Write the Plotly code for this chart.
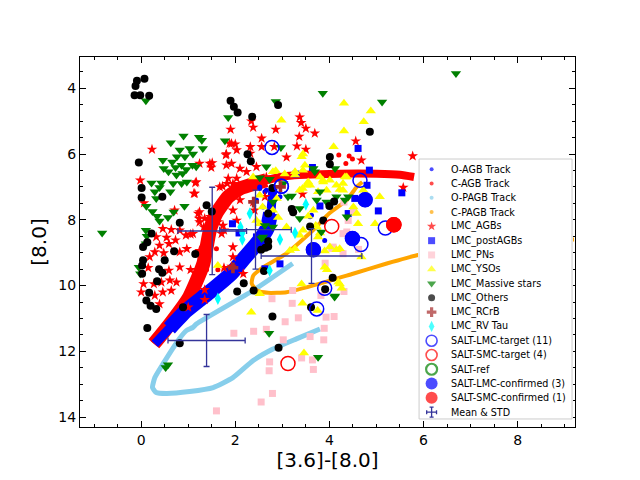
import plotly.graph_objects as go

# ---- evolutionary tracks ----
cagb_x = [0.27, 0.5, 1.02, 1.32, 1.46, 1.6, 1.85, 2.1, 2.66, 3.09, 4.22, 5.0, 5.5, 5.8]
cagb_y = [11.77, 11.37, 10.35, 9.34, 8.32, 7.8, 7.3, 7.05, 6.8, 6.67, 6.6, 6.6, 6.63, 6.7]
cagb_dots_x = [4.2, 4.42, 4.49, 4.35, 1.6, 1.39, 1.63]
cagb_dots_y = [6.03, 6.06, 6.15, 6.29, 8.88, 9.52, 9.52]

oagb_x = [0.29, 0.6, 0.96, 1.45, 1.91, 2.2, 2.5, 2.68, 2.75, 2.78, 2.8]
oagb_y = [11.77, 11.3, 10.76, 10.2, 9.64, 9.15, 8.65, 8.25, 7.8, 7.4, 7.05]
oagb_dots_x = [2.52, 2.63, 2.95, 2.8, 2.66, 2.52, 2.77, 2.45, 2.59, 3.59, 3.9, 3.62]
oagb_dots_y = [7.0, 7.15, 7.3, 7.61, 7.1, 7.05, 7.4, 7.4, 7.61, 7.91, 8.63, 7.86]

opagb_x = [3.22, 2.38, 1.18, 1.1, 0.96, 0.82, 0.46, 0.29, 0.24, 0.32, 0.54, 1.03, 1.53, 1.95, 2.38, 2.8, 3.3, 3.8]
opagb_y = [9.33, 10.15, 11.16, 11.27, 11.37, 11.6, 12.39, 12.8, 13.1, 13.25, 13.28, 13.22, 13.1, 12.8, 12.28, 11.93, 11.62, 11.32]

cpagb_x = [4.7, 4.58, 4.37, 4.0, 3.65, 3.09, 2.59, 2.38, 2.35, 2.46, 2.7, 3.09, 3.8, 4.5, 5.22, 5.86, 6.6, 7.5, 8.4, 9.2]
cpagb_y = [6.85, 7.0, 7.4, 7.8, 8.32, 9.02, 9.45, 9.7, 9.94, 10.15, 10.22, 10.2, 9.94, 9.64, 9.33, 9.08, 8.9, 8.75, 8.65, 8.6]

# ---- LMC populations ----
agb_x = [0.23, -0.02, 1.15, 1.12, 0.06, 0.71, 1.24, 1.35, 0.46, 0.64, 0.82, 0.95, 1.05, 0.32, 0.54, 0.73,
         0.39, 0.59, 0.29, 0.48, 0.18, 0.82, 0.97, 0.15, 0.59, 0.82, 1.05, 0.05, 0.27, 0.43, 0.61, 0.75,
         0.0, 0.29, 0.46, 0.64, 0.39, 1.0, 1.35, 1.35, 1.76, 1.24, 1.76, 1.95, 1.24, 1.46, 1.81, 2.03,
         1.88, 1.92, 1.73, 1.85, 1.95, 1.23, 1.47, 1.63, 1.33, 1.9, 1.92, 2.0, 2.34, 2.38, 2.32, 2.32,
         2.56, 2.86, 3.37, 3.4, 3.5, 3.69, 3.36, 3.31, 3.5, 3.09, 2.56, 1.8, 1.81, 1.51, 1.49, 2.1,
         2.24, 2.45, 2.66, 2.03, 1.83, 1.67, 1.17, 1.14, 1.21, 1.24, 2.38, 2.41, 2.03, 1.74, 2.63, 2.83,
         1.1, 1.71, 4.56, 4.68, 5.77, 5.57, 7.9, 8.73, 8.76, 7.88, 7.98, 8.05, 7.45, 6.05, 6.95, 3.43,
         2.1, 1.95, 1.95, 2.17, 1.92, 1.71]
agb_y = [5.86, 6.8, 6.88, 7.2, 7.49, 7.71, 7.76, 7.96, 8.27, 8.3, 8.32, 8.47, 8.44, 8.52, 8.54, 8.62,
         8.78, 8.73, 8.98, 9.01, 9.13, 8.98, 8.88, 9.46, 9.54, 9.44, 9.52, 9.95, 9.95, 9.9, 9.84, 9.9,
         10.2, 10.3, 10.2, 10.15, 10.56, 10.66, 10.13, 10.43, 9.46, 8.94, 8.32, 8.83, 6.29, 6.29, 6.0, 5.88,
         5.68, 6.29, 6.98, 6.74, 6.9, 7.96, 7.91, 8.07, 8.22, 5.25, 5.68, 5.7, 5.0, 5.19, 5.78, 5.98,
         5.52, 5.25, 4.88, 5.05, 5.22, 5.37, 5.47, 5.76, 5.86, 6.1, 5.78, 6.03, 6.34, 6.27, 6.41, 6.44,
         6.54, 6.39, 6.7, 6.74, 6.9, 7.0, 6.85, 7.2, 7.81, 8.07, 7.46, 7.71, 8.02, 8.17, 7.3, 5.78,
         8.42, 8.42, 5.61, 6.19, 6.06, 7.02, 6.95, 7.33, 7.73, 6.98, 7.86, 7.86, 7.71, 7.81, 8.42, 7.22,
         7.4, 7.71, 9.13, 9.64, 9.42, 7.5]

postagb_x = [1.94, 2.08, 2.45, 3.29, 3.8, 4.61, 4.85, 4.8, 3.64, 5.54, 5.04, 4.54, 4.4, 2.95, 2.63]
postagb_y = [8.12, 8.4, 8.52, 6.61, 7.58, 5.83, 6.49, 6.95, 6.41, 7.18, 7.73, 7.35, 7.81, 9.34, 9.49]

pn_x = [3.91, 3.22, 2.78, 3.21, 3.82, 4.31, 3.06, 3.34, 3.93, 4.1, 2.39, 2.66, 3.02, 3.59, 3.89, 3.88,
        2.73, 2.72, 3.41, 3.64, 3.66, 2.79, 2.55, 1.6, 1.97, 4.29, 4.08, 4.31, 4.51, 4.29, 4.4, 4.37,
        4.62, 4.05]
pn_y = [9.32, 10.15, 10.4, 10.54, 10.3, 10.18, 11.1, 10.98, 10.96, 10.94, 11.39, 11.33, 11.65, 11.55, 11.3, 11.65,
        12.32, 12.59, 12.2, 12.26, 12.55, 13.28, 13.54, 13.81, 11.45, 8.42, 8.83, 7.46, 7.76, 9.03, 8.02, 8.37,
        8.9, 8.87]

yso_x = [4.31, 4.88, 4.73, 4.31, 4.09, 2.98, 3.44, 3.41, 4.33, 3.8, 3.86, 3.59, 3.43, 3.27, 2.86, 2.38,
         3.94, 4.29, 4.72, 5.07, 4.97, 4.61, 4.58, 4.15, 4.01, 3.44, 3.76, 4.22, 4.37, 4.29, 3.51, 3.66,
         3.55, 3.71, 3.8, 3.44, 3.9, 4.15, 4.68, 4.51, 3.9, 3.48, 2.8, 3.05, 3.27, 3.87, 3.55, 3.37,
         2.52, 2.88, 2.8, 2.91, 2.45, 2.52, 3.09, 3.73, 3.37, 3.76, 3.16, 3.27, 4.01, 4.22, 3.95, 4.22,
         3.41, 2.34, 2.52, 1.63, 3.43, 3.75, 4.19, 4.26, 3.46, 2.58]
yso_y = [4.46, 4.69, 5.02, 5.3, 5.78, 4.97, 6.0, 6.08, 6.7, 6.7, 6.8, 6.95, 7.05, 6.64, 6.51, 6.7,
         7.1, 7.1, 7.1, 7.3, 8.12, 8.12, 7.81, 6.95, 6.8, 6.49, 7.15, 7.08, 6.7, 6.9, 6.95, 7.71,
         7.89, 8.17, 8.4, 8.32, 8.95, 8.91, 9.13, 7.61, 9.44, 6.34, 6.54, 6.61, 6.54, 6.85, 6.85, 7.1,
         7.25, 7.35, 7.71, 7.93, 8.02, 8.12, 8.22, 8.22, 8.47, 8.52, 8.93, 8.88, 8.83, 8.88, 9.52, 9.95,
         9.95, 10.81, 10.25, 9.39, 10.54, 10.76, 9.9, 10.08, 12.05, 7.61]

massive_x = [0.9, 1.23, 1.29, 0.63, 0.82, 1.03, 1.1, 1.31, 0.46, 0.66, 0.76, 0.93, 0.48, 0.58, 0.73, 0.86,
             0.96, 1.09, 1.17, 0.75, 0.88, 0.22, 0.43, 0.68, 0.86, 0.97, 0.29, 0.39, 0.62, 0.32, 0.11, 0.24,
             0.34, 0.69, 0.92, 0.57, 0.39, 0.1, 0.12, 0.1, -0.05, -0.02, -0.83, 1.78, 0.1, 1.85, 2.86, 3.86,
             5.12, 6.69, 2.97, 2.66, 2.73, 2.52, 3.02, 3.12, 3.37, 3.66, 3.8, 3.73, 2.8, 2.8, 2.63, 2.56,
             3.83, 3.69, 4.12, 3.2, 4.15, 4.4, 3.37, 3.94, 4.33, 4.37, 2.59, 4.12, 0.52, 0.57, 2.72, 3.76,
             4.11]
massive_y = [5.45, 5.49, 5.58, 5.66, 5.88, 5.83, 6.0, 5.83, 6.19, 6.24, 6.08, 6.08, 6.44, 6.54, 6.41, 6.34,
             6.47, 6.34, 6.39, 6.64, 6.59, 6.88, 6.88, 6.9, 6.9, 6.85, 7.15, 7.02, 7.15, 7.35, 7.59, 7.75,
             7.89, 7.76, 7.59, 7.93, 8.04, 8.32, 8.5, 8.73, 9.44, 9.64, 8.4, 5.6, 4.38, 4.89, 4.4, 4.15,
             4.42, 3.55, 5.8, 6.39, 6.77, 6.72, 6.9, 7.3, 7.96, 6.44, 7.15, 7.4, 7.46, 8.22, 8.17, 8.57,
             8.37, 6.54, 6.44, 7.28, 7.3, 7.3, 7.66, 7.46, 7.4, 7.91, 8.52, 10.32, 12.49, 12.41, 11.45, 12.18,
             10.35]

others_x = [-0.09, 0.07, -0.12, -0.14, -0.02, 0.17, 1.9, 1.97, 2.05, 2.36, 2.91, 4.86, -0.05, 0.01, 0.01, 0.45,
            1.39, 1.5, 0.82, 0.22, 2.26, 2.33, 2.79, 3.2, 3.23, 3.59, 4.01, 4.01, 4.0, 4.1, 3.87, 2.7,
            0.04, 0.13, 0.7, 1.15, 0.5, 0.04, 0.02, 0.02, 0.38, 0.45, 0.34, 0.17, 0.11, 0.2, 0.32, 0.89,
            0.13, 2.04, 0.82, 2.79, 2.92, 2.18, 2.39, 3.61, 3.91, 4.07, 2.7, 2.64, 2.61, 2.7, 2.55]
others_y = [3.77, 3.71, 3.93, 4.21, 4.21, 4.23, 4.38, 4.56, 4.74, 4.87, 4.51, 5.32, 6.26, 7.03, 7.32, 7.3,
            7.56, 7.75, 8.09, 8.42, 6.01, 6.22, 7.03, 7.67, 7.77, 8.2, 6.09, 6.31, 7.58, 7.44, 8.02, 7.81,
            8.83, 8.68, 8.96, 9.04, 9.23, 9.23, 9.39, 9.64, 9.5, 9.61, 9.87, 10.22, 10.45, 10.61, 10.71, 10.66,
            11.29, 10.18, 11.75, 10.94, 11.89, 9.93, 10.15, 10.66, 10.11, 9.76, 8.81, 8.85, 9.56, 8.65, 8.91]

rcrb_x = [2.96, 2.39, 1.95]
rcrb_y = [7.0, 7.46, 9.46]

rvtau_x = [1.63, 2.15, 2.15, 2.95, 3.27, 2.73, 2.31, 3.5, 2.11]
rvtau_y = [10.4, 8.4, 8.6, 8.6, 8.4, 9.54, 7.81, 7.53, 8.22]

# ---- SALT samples ----
lmc_target_x = [2.78, 2.98, 4.65, 5.19, 4.67, 3.9, 3.73, 4.76, 4.49, 3.66, 2.98]
lmc_target_y = [5.8, 6.98, 6.8, 8.25, 8.75, 10.08, 10.71, 7.39, 8.57, 8.91, 6.98]
smc_target_x = [4.05, 3.12, 5.37, 5.37]
smc_target_y = [8.2, 12.37, 8.15, 8.15]
lmc_conf_x = [4.76, 4.49, 3.66]
lmc_conf_y = [7.39, 8.57, 8.91]
smc_conf_x = [5.37]
smc_conf_y = [8.15]

# ---- mean & std crosses ----
mean_x = [1.51, 2.43, 3.62, 1.39]
mean_y = [8.34, 8.3, 9.1, 11.67]
std_x = [0.73, 0.76, 1.07, 0.82]
std_y = [1.33, 1.2, 0.83, 0.79]

navy = "#34349a"

# legend entries: label, symbol, colour, size, outline width
legend_items = [
    ("O-AGB Track", "circle", "#0000ff", 4, 0),
    ("C-AGB Track", "circle", "#ff0000", 4, 0),
    ("O-PAGB Track", "circle", "#87ceeb", 4, 0),
    ("C-PAGB Track", "circle", "#ffa500", 4, 0),
    ("LMC_AGBs", "star", "#ff0000", 7, 0),
    ("LMC_postAGBs", "square", "#0000ff", 7, 0),
    ("LMC_PNs", "square", "#ffc0cb", 7, 0),
    ("LMC_YSOs", "triangle-up", "#ffff00", 8, 0),
    ("LMC_Massive stars", "triangle-down", "#008000", 8, 0),
    ("LMC_Others", "circle", "#000000", 7, 0),
    ("LMC_RCrB", "cross", "#a52a2a", 8, 0),
    ("LMC_RV Tau", "diamond-tall", "#00ffff", 8, 0),
    ("SALT-LMC-target (11)", "circle-open", "#0000ff", 11, 1.6),
    ("SALT-SMC-target (4)", "circle-open", "#ff0000", 11, 1.6),
    ("SALT-ref", "circle-open", "#008000", 11, 2.2),
    ("SALT-LMC-confirmed (3)", "circle", "#0000ff", 12, 0),
    ("SALT-SMC-confirmed (1)", "circle", "#ff0000", 12, 0),
]
mean_label = "Mean & STD"

fig = go.Figure()

def track_line(x, y, color, width):
    fig.add_trace(go.Scatter(x=x, y=y, mode="lines", showlegend=False, hoverinfo="skip",
                             line=dict(color=color, width=width, shape="spline", smoothing=0.5)))

track_line(cagb_x, cagb_y, "#ff0000", 8)
track_line(cagb_x[:9], cagb_y[:9], "#ff0000", 14)
track_line(oagb_x, oagb_y, "#0000ff", 9)
track_line(oagb_x[1:9], oagb_y[1:9], "#0000ff", 15)
track_line(opagb_x, opagb_y, "#87ceeb", 5)
track_line(cpagb_x, cpagb_y, "#ffa500", 4)

def pts(x, y, symbol, color, size, line=None):
    m = dict(symbol=symbol, color=color, size=size, line=line or dict(width=0))
    fig.add_trace(go.Scatter(x=x, y=y, mode="markers", showlegend=False, marker=m))

pts(oagb_dots_x, oagb_dots_y, "circle", "#0000ff", 5)
pts(cagb_dots_x, cagb_dots_y, "circle", "#ff0000", 5)
pts(agb_x, agb_y, "star", "#ff0000", 8)
pts(postagb_x, postagb_y, "square", "#0000ff", 7)
pts(pn_x, pn_y, "square", "#ffc0cb", 7)
pts(yso_x, yso_y, "triangle-up", "#ffff00", 9)
pts(massive_x, massive_y, "triangle-down", "#008000", 9)
pts(others_x, others_y, "circle", "#000000", 8)
pts(rcrb_x, rcrb_y, "cross", "#a52a2a", 9)
pts(rvtau_x, rvtau_y, "diamond-tall", "#00ffff", 9)
pts(lmc_target_x, lmc_target_y, "circle-open", "#0000ff", 14, dict(width=1.5, color="#0000ff"))
pts(smc_target_x, smc_target_y, "circle-open", "#ff0000", 14, dict(width=1.5, color="#ff0000"))
pts(lmc_conf_x, lmc_conf_y, "circle", "#0000ff", 15)
pts(smc_conf_x, smc_conf_y, "circle", "#ff0000", 15)

fig.add_trace(go.Scatter(
    x=mean_x, y=mean_y, mode="markers", showlegend=False,
    marker=dict(size=1, color=navy),
    error_x=dict(type="data", array=std_x, color=navy, thickness=1.3, width=3),
    error_y=dict(type="data", array=std_y, color=navy, thickness=1.3, width=3),
))

# ---- legend box drawn on a small pixel-scaled subplot ----
box_w, box_h = 155, 262
row0, row_step = 10.3, 14.4
mark_x, text_x = 12.7, 30
rows = [row0 + i * row_step for i in range(len(legend_items) + 1)]

fig.add_trace(go.Scatter(
    x=[0, box_w, box_w, 0, 0], y=[0, 0, box_h, box_h, 0], xaxis="x2", yaxis="y2",
    mode="lines", fill="toself", fillcolor="rgba(255,255,255,0.8)",
    line=dict(color="#cccccc", width=1), showlegend=False, hoverinfo="skip"))
fig.add_trace(go.Scatter(
    x=[mark_x] * len(legend_items), y=rows[:len(legend_items)], xaxis="x2", yaxis="y2",
    mode="markers", showlegend=False, hoverinfo="skip",
    marker=dict(symbol=[it[1] for it in legend_items], color=[it[2] for it in legend_items],
                size=[it[3] for it in legend_items],
                line=dict(width=[it[4] for it in legend_items], color=[it[2] for it in legend_items]))))
fig.add_trace(go.Scatter(
    x=[mark_x], y=[rows[-1]], xaxis="x2", yaxis="y2", mode="markers",
    showlegend=False, hoverinfo="skip", marker=dict(size=1, color=navy),
    error_x=dict(type="data", array=[5], color=navy, thickness=1.3, width=2),
    error_y=dict(type="data", array=[5], color=navy, thickness=1.3, width=2)))

labels = [it[0] for it in legend_items] + [mean_label]
for lab, ry in zip(labels, rows):
    fig.add_annotation(x=text_x, y=ry, xref="x2", yref="y2", text=lab, showarrow=False,
                       xanchor="left", yanchor="middle", font=dict(size=9.6, color="black"))

axis_common = dict(
    showgrid=False, zeroline=False, showline=True, linecolor="black", linewidth=1,
    mirror="allticks", ticks="inside", ticklen=6, tickwidth=1, tickcolor="black",
    tickfont=dict(size=14, color="black"),
    minor=dict(ticks="inside", ticklen=3, tickwidth=1, tickcolor="black", dtick=0.5),
)
fig.update_xaxes(range=[-1.3, 9.22], dtick=2, tick0=0,
                 title=dict(text="[3.6]-[8.0]", font=dict(size=20, color="black"), standoff=2),
                 **axis_common)
fig.update_yaxes(range=[14.3, 3.05], dtick=2, tick0=0,
                 title=dict(text="[8.0]", font=dict(size=20, color="black"), standoff=6),
                 **axis_common)

fig.update_layout(
    width=640, height=480,
    margin=dict(l=72, r=73, t=49, b=61),
    paper_bgcolor="white", plot_bgcolor="white",
    font=dict(family="DejaVu Sans", color="black"),
    showlegend=False,
    xaxis2=dict(domain=[0.683, 0.996], range=[-1, box_w + 1], visible=False, fixedrange=True),
    yaxis2=dict(domain=[0.019, 0.727], range=[box_h + 1, -1], visible=False, fixedrange=True,
                anchor="x2"),
)
fig.update_layout(xaxis2_anchor="y2")

fig.write_html("out.html")
